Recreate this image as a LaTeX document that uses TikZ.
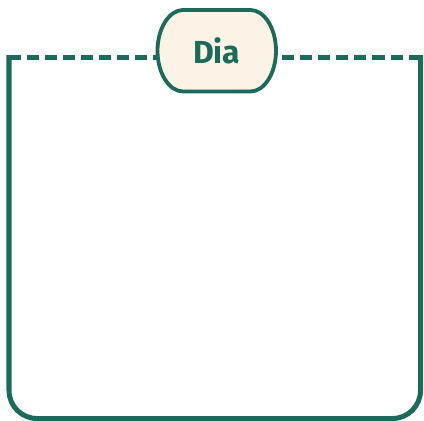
\documentclass[tikz,border=0pt]{standalone}
\usepackage{fontspec}
\setmainfont{Fira Sans}
\definecolor{frgreen}{HTML}{1B6A5A}
\definecolor{frcream}{HTML}{FAF3E6}
\pgfdeclarelayer{background}
\pgfsetlayers{background,main}
\begin{document}
\begin{tikzpicture}[x=1bp,y=-1bp,
  frameline/.style={draw=frgreen,line width=5bp},
  dashline/.style={draw=frgreen,line width=5bp,dash pattern=on 12bp off 6bp},
  pillborder/.style={draw=frgreen,fill=frcream,line width=3.8bp},
  pilltext/.style={minimum width=118.5bp,minimum height=81.5bp,inner sep=0pt,
    font=\fontsize{32}{34}\selectfont\bfseries,text=frgreen}]
\useasboundingbox (0,0) rectangle (424,421);
\coordinate (tl) at (9,57.5);
\coordinate (tr) at (420.5,57.5);
\coordinate (bl) at (9,418.5);
\coordinate (br) at (420.5,418.5);
\node[pilltext] (title) at (216.75,50.75) {};
\begin{pgfonlayer}{background}
\draw[frameline] ([yshift=2.5bp]tl) -- (tl) [rounded corners=28bp] -- (bl) -- (br) [sharp corners] -- ([yshift=2.5bp]tr);
\draw[dashline] (tl) -- (title.west |- tl);
\draw[dashline] (tr) -- (title.east |- tr);
\draw[pillborder] (183,10) -- (250.5,10)
  .. controls (264.3,10) and (276,28.25) .. (276,50.75)
  .. controls (276,73.25) and (264.3,91.5) .. (250.5,91.5)
  -- (183,91.5)
  .. controls (169.2,91.5) and (157.5,73.25) .. (157.5,50.75)
  .. controls (157.5,28.25) and (169.2,10) .. (183,10) -- cycle;
\end{pgfonlayer}
\node[pilltext] at (title.center) {Dia};
\end{tikzpicture}
\end{document}
